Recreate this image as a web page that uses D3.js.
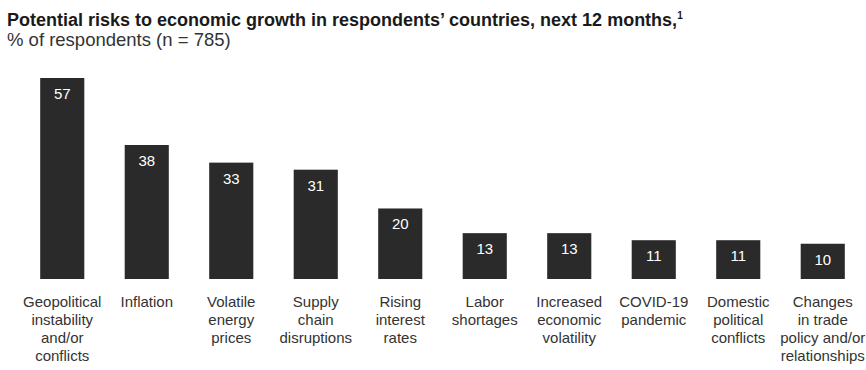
<!DOCTYPE html>
<html>
<head>
<meta charset="utf-8">
<script src="https://cdn.jsdelivr.net/npm/d3@7"></script>
<style>
  html, body { margin: 0; padding: 0; background: #ffffff; }
  svg { display: block; }
</style>
</head>
<body>
<script>
// Survey results: share of respondents naming each risk
const categories = [
  "Geopolitical instability and/or conflicts",
  "Inflation",
  "Volatile energy prices",
  "Supply chain disruptions",
  "Rising interest rates",
  "Labor shortages",
  "Increased economic volatility",
  "COVID-19 pandemic",
  "Domestic political conflicts",
  "Changes in trade policy and/or relationships"
];
const values = [57, 38, 33, 31, 20, 13, 13, 11, 11, 10];
// How each category label is broken into lines
const labelLines = [
  ["Geopolitical", "instability", "and/or", "conflicts"],
  ["Inflation"],
  ["Volatile", "energy", "prices"],
  ["Supply", "chain", "disruptions"],
  ["Rising", "interest", "rates"],
  ["Labor", "shortages"],
  ["Increased", "economic", "volatility"],
  ["COVID-19", "pandemic"],
  ["Domestic", "political", "conflicts"],
  ["Changes", "in trade", "policy and/or", "relationships"]
];
const title = "Potential risks to economic growth in respondents\u2019 countries, next 12 months,";
const subtitle = "% of respondents (n = 785)";

const W = 866, H = 370;
const svg = d3.select("body").append("svg").attr("width", W).attr("height", H);
const font = "'Liberation Sans', Arial, sans-serif";

// Headings
const t = svg.append("text").attr("x", 7).attr("y", 26)
  .attr("font-family", font).attr("font-weight", "bold").attr("font-size", 18)
  .attr("fill", "#1a1a1a").text(title);
t.append("tspan").attr("font-size", 10).attr("dy", -7).text("1");
svg.append("text").attr("x", 7).attr("y", 46)
  .attr("font-family", font).attr("font-size", 18.5).attr("fill", "#333")
  .text(subtitle);

// Scales
const baseline = 279;
const x = d3.scaleBand().domain(categories).range([20, 865]).paddingInner(0.478).paddingOuter(0.239);
const y = d3.scaleLinear().domain([0, 57]).range([baseline, 78]);

// Bars
svg.append("g").selectAll("rect").data(categories).join("rect")
  .attr("x", d => x(d))
  .attr("y", (d, i) => y(values[i]))
  .attr("width", x.bandwidth())
  .attr("height", (d, i) => baseline - y(values[i]))
  .attr("fill", "#2a2a2a");

// Value labels inside bar tops
svg.append("g").selectAll("text").data(categories).join("text")
  .attr("x", d => x(d) + x.bandwidth() / 2)
  .attr("y", (d, i) => y(values[i]) + 21)
  .attr("text-anchor", "middle")
  .attr("font-family", font).attr("font-size", 15).attr("fill", "#ffffff")
  .text((d, i) => values[i]);

// Category labels below the bars
const lab = svg.append("g").selectAll("text").data(categories).join("text")
  .attr("x", d => x(d) + x.bandwidth() / 2)
  .attr("y", 307)
  .attr("text-anchor", "middle")
  .attr("font-family", font).attr("font-size", 15).attr("fill", "#333");
lab.each(function(d, i) {
  const el = d3.select(this);
  labelLines[i].forEach((line, j) => {
    el.append("tspan").attr("x", x(d) + x.bandwidth() / 2)
      .attr("dy", j === 0 ? 0 : 18).text(line);
  });
});
</script>
</body>
</html>
